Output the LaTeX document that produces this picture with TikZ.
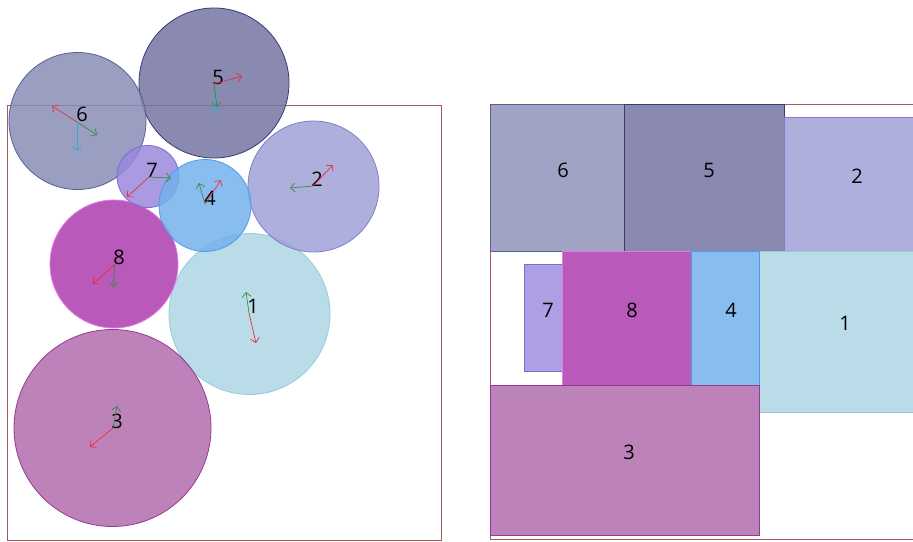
\documentclass[tikz,border=0pt]{standalone}
\usepackage{fontspec}
\setmainfont{Open Sans}
\usetikzlibrary{arrows.meta}
\definecolor{frm}{HTML}{A85860}
% rectangle (flat) colours
\definecolor{fA}{HTML}{BADCE8}\definecolor{sA}{HTML}{95CBE0}
\definecolor{fB}{HTML}{AFAFDD}\definecolor{sB}{HTML}{7E7EC8}
\definecolor{fC}{HTML}{BE82BA}\definecolor{sC}{HTML}{943A94}
\definecolor{fD}{HTML}{89BDF0}\definecolor{sD}{HTML}{4C9BEA}
\definecolor{fE}{HTML}{8A89B0}\definecolor{sE}{HTML}{3A3A78}
\definecolor{fF}{HTML}{A0A3C4}\definecolor{sF}{HTML}{585E96}
\definecolor{fG}{HTML}{AE9EE4}\definecolor{sG}{HTML}{7E6AD2}
\definecolor{fH}{HTML}{B959B9}\definecolor{sH}{HTML}{E47AE4}
% circle (translucent) base colours
\definecolor{kA}{HTML}{AED6E4}
\definecolor{kB}{HTML}{A1A1D7}
\definecolor{kC}{HTML}{B36CAE}
\definecolor{kD}{HTML}{74B1ED}
\definecolor{kE}{HTML}{7574A2}
\definecolor{kF}{HTML}{888DB6}
\definecolor{kG}{HTML}{9B88DD}
\definecolor{kH}{HTML}{AD3CAD}
\definecolor{vred}{HTML}{E8303C}
\definecolor{vgrn}{HTML}{3A8A3A}
\definecolor{vcyn}{HTML}{33AED0}
\tikzset{
  circ/.style={circle, inner sep=0pt, fill opacity=0.85, line width=0.8pt},
  box/.style={rectangle, inner sep=0pt, line width=0.8pt, anchor=north west},
  lbl/.style={font=\fontsize{20}{20}\selectfont, text=black, inner sep=0pt},
  vec/.style={line width=0.7pt, -{Straight Barb[length=4.5pt,width=9pt,line width=0.7pt]}},
}
\begin{document}
\begin{tikzpicture}[x=1pt,y=-1pt]
\useasboundingbox (0,0) rectangle (913,541);
\clip (0,0) rectangle (913,541);
% left frame
\node[draw=frm, line width=0.8pt, inner sep=0pt, minimum width=434pt, minimum height=435pt, anchor=north west] (lframe) at (7,105) {};
% circles
\node[circ, draw=sE, fill=kE, minimum size=150pt] (c5) at (214,83) {};
\node[circ, draw=sF, fill=kF, minimum size=137pt] (c6) at (77.5,121) {};
\node[circ, draw=sA, fill=kA, minimum size=161pt] (c1) at (249.5,314) {};
\node[circ, draw=sB, fill=kB, minimum size=131pt] (c2) at (313.5,186.5) {};
\node[circ, draw=sC, fill=kC, minimum size=197pt] (c3) at (112.5,428) {};
\node[circ, draw=sH, fill=kH, minimum size=128pt] (c8) at (114,264) {};
\node[circ, draw=sG, fill=kG, minimum size=62pt] (c7) at (148,176.5) {};
\node[circ, draw=sD, fill=kD, minimum size=92pt] (c4) at (205,205.5) {};
% labels
\node[lbl] (l6) at (82,114) {6};
\node[lbl] (l5) at (218,77) {5};
\node[lbl] (l7) at (152,170) {7};
\node[lbl] (l4) at (210,198) {4};
\node[lbl] (l2) at (317,179) {2};
\node[lbl] (l8) at (119,257) {8};
\node[lbl] (l1) at (253,306) {1};
\node[lbl] (l3) at (117,421) {3};
% vector origins and ends
\coordinate (o6) at (77,122);
\coordinate (r6) at (52,106); \coordinate (g6) at (97,135); \coordinate (b6) at (77,151);
\coordinate (o5) at (214,84);
\coordinate (r5) at (242,76); \coordinate (g5) at (217,107); \coordinate (b5) at (214,113);
\coordinate (o7) at (149,177);
\coordinate (r7) at (127,197); \coordinate (g7) at (171,178);
\coordinate (o4) at (205,204);
\coordinate (r4) at (221,180); \coordinate (g4) at (199,183);
\coordinate (o2) at (313,186);
\coordinate (r2) at (333,165); \coordinate (g2) at (290,188);
\coordinate (o8) at (115,264);
\coordinate (r8) at (93,284); \coordinate (g8) at (113,287);
\coordinate (o1) at (249,313);
\coordinate (r1) at (256,343); \coordinate (g1) at (246,292);
\coordinate (o3) at (113,428);
\coordinate (r3) at (90,447); \coordinate (g3) at (117,406);
\draw[vec, vred] (o6) -- (r6); \draw[vec, vgrn] (o6) -- (g6); \draw[vec, vcyn] (o6) -- (b6);
\draw[vec, vcyn] (o5) -- (b5); \draw[vec, vred] (o5) -- (r5); \draw[vec, vgrn] (o5) -- (g5);
\draw[vec, vred] (o7) -- (r7); \draw[vec, vgrn] (o7) -- (g7);
\draw[vec, vred] (o4) -- (r4); \draw[vec, vgrn] (o4) -- (g4);
\draw[vec, vred] (o2) -- (r2); \draw[vec, vgrn] (o2) -- (g2);
\draw[vec, vred] (o8) -- (r8); \draw[vec, vgrn] (o8) -- (g8);
\draw[vec, vred] (o1) -- (r1); \draw[vec, vgrn] (o1) -- (g1);
\draw[vec, vred] (o3) -- (r3); \draw[vec, vgrn] (o3) -- (g3);
% right panel
\node[draw=frm, line width=0.8pt, inner sep=0pt, minimum width=434pt, minimum height=435pt, anchor=north west] (rframe) at (490,104) {};
\node[box, draw=sF, fill=fF, minimum width=134pt, minimum height=147pt] (q6) at (490,104) {};
\node[box, draw=sE, fill=fE, minimum width=160pt, minimum height=147pt] (q5) at (624,104) {};
\node[box, draw=sB, fill=fB, minimum width=160pt, minimum height=134pt] (q2) at (784,117) {};
\node[box, draw=sA, fill=fA, minimum width=180pt, minimum height=161pt] (q1) at (759,251) {};
\node[box, draw=sG, fill=fG, minimum width=38pt, minimum height=107pt] (q7) at (524,264) {};
\node[box, draw=sH, fill=fH, minimum width=129pt, minimum height=134pt] (q8) at (562,251) {};
\node[box, draw=sD, fill=fD, minimum width=68pt, minimum height=134pt] (q4) at (691,251) {};
\node[box, draw=sC, fill=fC, minimum width=269pt, minimum height=150pt] (q3) at (490,385) {};
\node[lbl] (m6) at (563,170) {6};
\node[lbl] (m5) at (709,170) {5};
\node[lbl] (m2) at (857,176) {2};
\node[lbl] (m7) at (548,310) {7};
\node[lbl] (m8) at (632,310) {8};
\node[lbl] (m4) at (731,310) {4};
\node[lbl] (m1) at (845,323) {1};
\node[lbl] (m3) at (629,452) {3};
\end{tikzpicture}
\end{document}
